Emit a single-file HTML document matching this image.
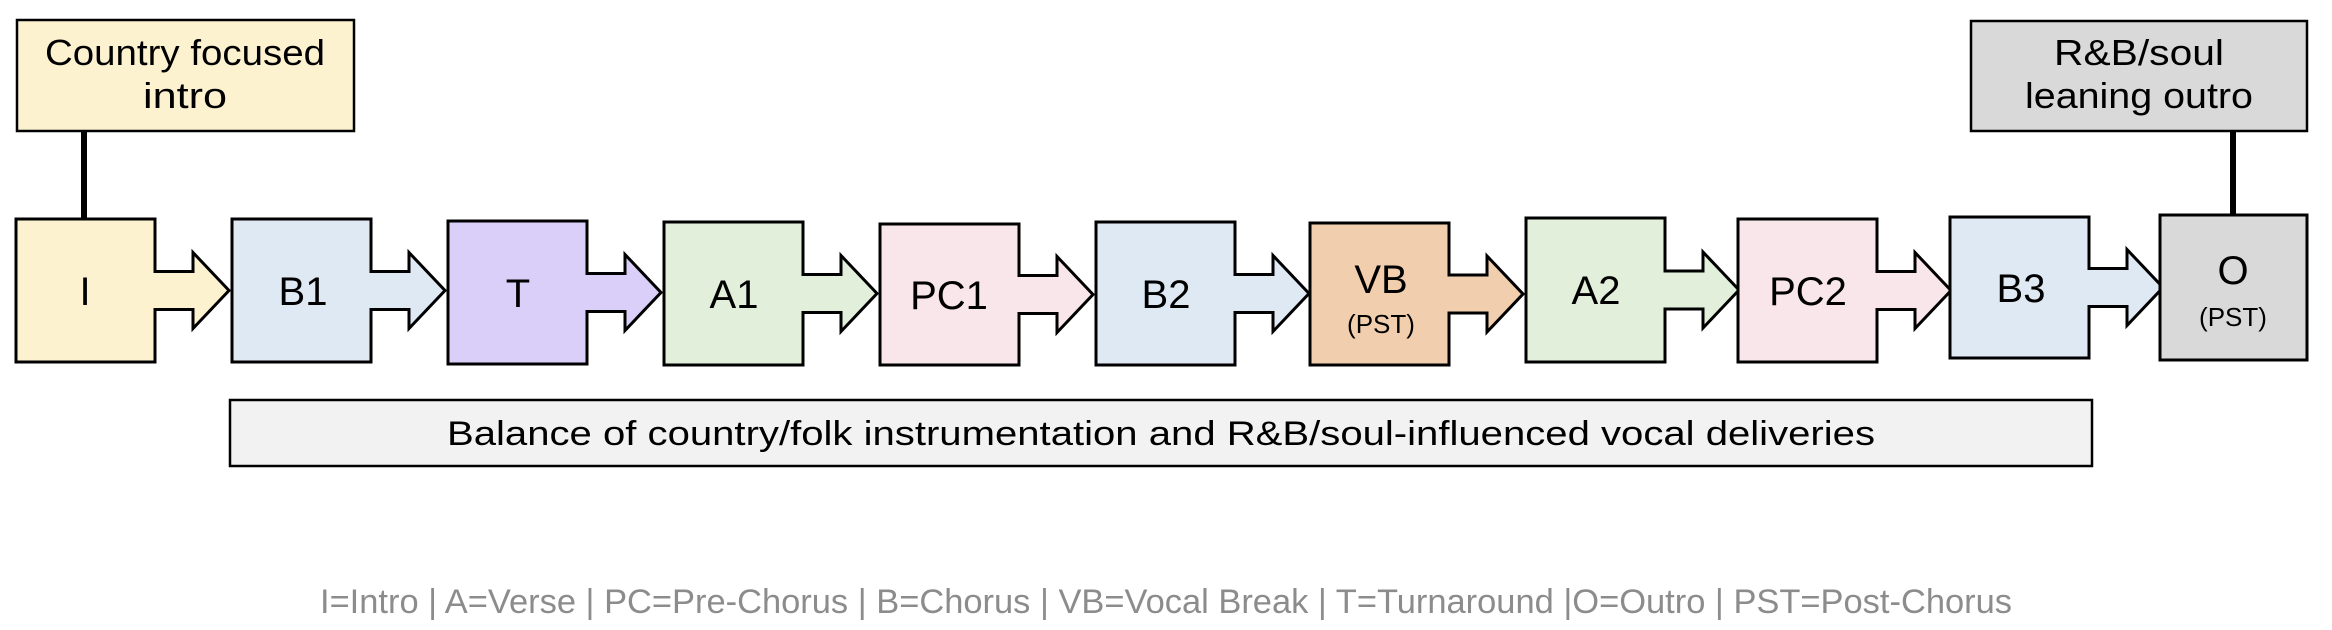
<!DOCTYPE html>
<html><head><meta charset="utf-8"><style>
html,body{margin:0;padding:0;background:#fff;}
svg{display:block;}
text{font-family:"Liberation Sans",sans-serif;}
</style></head><body>
<svg width="2332" height="630" viewBox="0 0 2332 630" xmlns="http://www.w3.org/2000/svg">
<line x1="84" y1="131" x2="84" y2="220" stroke="#000" stroke-width="6"/>
<rect x="17" y="20" width="337" height="111" fill="#fdf2d0" stroke="#000" stroke-width="2.5"/>
<text x="185" y="65" font-size="36" text-anchor="middle" textLength="280" lengthAdjust="spacingAndGlyphs">Country focused</text>
<text x="185" y="108" font-size="36" text-anchor="middle" textLength="84" lengthAdjust="spacingAndGlyphs">intro</text>

<line x1="2233" y1="131" x2="2233" y2="216" stroke="#000" stroke-width="6"/>
<rect x="1971" y="21" width="336" height="110" fill="#d9d9d9" stroke="#000" stroke-width="2.5"/>
<text x="2139" y="65" font-size="36" text-anchor="middle" textLength="170" lengthAdjust="spacingAndGlyphs">R&amp;B/soul</text>
<text x="2139" y="108" font-size="36" text-anchor="middle" textLength="228" lengthAdjust="spacingAndGlyphs">leaning outro</text>

<g stroke="#000" stroke-width="3" stroke-linejoin="miter">
<path fill="#fdf2d0" d="M16 219 H155 V271.5 H193 V252.5 L229 290.5 L193 328.5 V309.5 H155 V362 H16 Z"/>
<path fill="#dfe9f4" d="M232 219 H371 V271.5 H409 V252.5 L445 290.5 L409 328.5 V309.5 H371 V362 H232 Z"/>
<path fill="#dacff8" d="M448 221 H587 V273.5 H625 V254.5 L661 292.5 L625 330.5 V311.5 H587 V364 H448 Z"/>
<path fill="#e2efda" d="M664 222 H803 V274.5 H841 V255.5 L877 293.5 L841 331.5 V312.5 H803 V365 H664 Z"/>
<path fill="#f8e6ea" d="M880 224 H1019 V275.5 H1057 V256.5 L1093 294.5 L1057 332.5 V313.5 H1019 V365 H880 Z"/>
<path fill="#dfe9f4" d="M1096 222 H1235 V274.5 H1273 V255.5 L1309 293.5 L1273 331.5 V312.5 H1235 V365 H1096 Z"/>
<path fill="#f1cfae" d="M1310 223 H1449 V275 H1487 V256 L1523 294 L1487 332 V313 H1449 V365 H1310 Z"/>
<path fill="#e2efda" d="M1526 218 H1665 V271 H1703 V252 L1739 290 L1703 328 V309 H1665 V362 H1526 Z"/>
<path fill="#f8e6ea" d="M1738 219 H1877 V271.5 H1915 V252.5 L1951 290.5 L1915 328.5 V309.5 H1877 V362 H1738 Z"/>
<path fill="#dfe9f4" d="M1950 217 H2089 V268.5 H2127 V249.5 L2163 287.5 L2127 325.5 V306.5 H2089 V358 H1950 Z"/>
<rect x="2160" y="215" width="147" height="145" fill="#d9d9d9"/>
</g>
<g font-size="40" text-anchor="middle">
<text x="85" y="305">I</text>
<text x="303" y="305">B1</text>
<text x="518" y="307">T</text>
<text x="734" y="308">A1</text>
<text x="949" y="309">PC1</text>
<text x="1166" y="308">B2</text>
<text x="1381" y="293">VB</text>
<text x="1596" y="304">A2</text>
<text x="1808" y="305">PC2</text>
<text x="2021" y="302">B3</text>
<text x="2233" y="284">O</text>
</g>
<text x="1381" y="333" font-size="26" text-anchor="middle">(PST)</text>
<text x="2233" y="326" font-size="26" text-anchor="middle">(PST)</text>

<rect x="230" y="400" width="1862" height="66" fill="#f2f2f2" stroke="#000" stroke-width="2.5"/>
<text x="1161" y="445" font-size="34" text-anchor="middle" textLength="1428" lengthAdjust="spacingAndGlyphs">Balance of country/folk instrumentation and R&amp;B/soul-influenced vocal deliveries</text>

<text x="1166" y="613" font-size="34" fill="#8c8c8c" text-anchor="middle" textLength="1692" lengthAdjust="spacingAndGlyphs">I=Intro | A=Verse | PC=Pre-Chorus | B=Chorus | VB=Vocal Break | T=Turnaround |O=Outro | PST=Post-Chorus</text>
</svg>
</body></html>
